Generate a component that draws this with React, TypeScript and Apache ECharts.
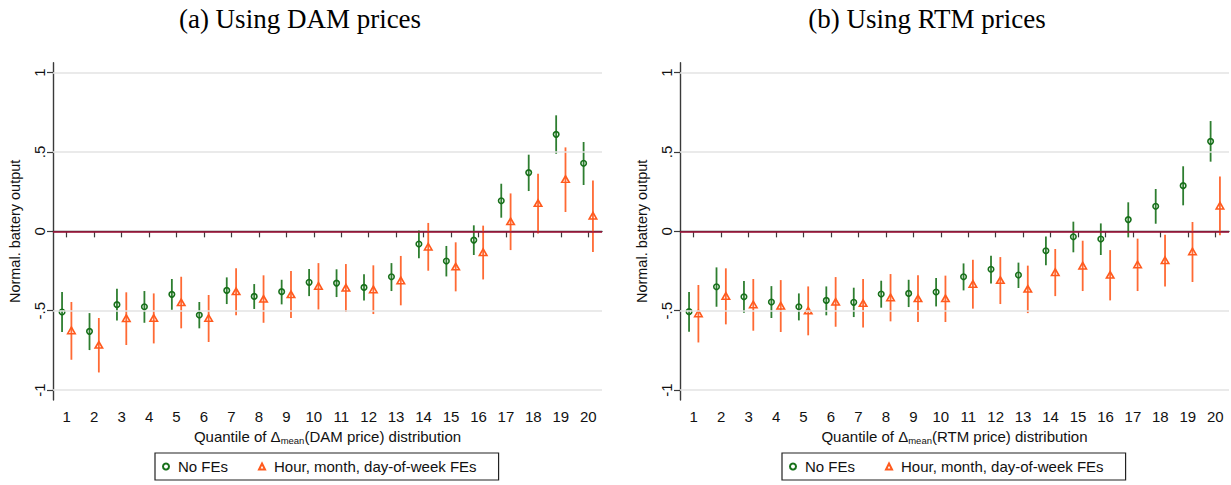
import React, { useEffect, useRef } from "react";
import * as echarts from "echarts";

// Quantiles of the price-difference distribution
const quantiles = [1, 2, 3, 4, 5, 6, 7, 8, 9, 10, 11, 12, 13, 14, 15, 16, 17, 18, 19, 20];
const yTicks = [-1, -0.5, 0, 0.5, 1];
const yTickLabels: Record<string, string> = { "-1": "-1", "-0.5": "-.5", "0": "0", "0.5": ".5", "1": "1" };

// (a) DAM prices — no fixed effects
const damNoFE = [-0.508, -0.63, -0.462, -0.475, -0.397, -0.527, -0.372, -0.41, -0.38, -0.321, -0.326, -0.353, -0.286, -0.08, -0.187, -0.055, 0.193, 0.37, 0.611, 0.429];
const damNoFELo = [-0.634, -0.748, -0.561, -0.576, -0.494, -0.611, -0.458, -0.489, -0.46, -0.408, -0.414, -0.435, -0.376, -0.17, -0.284, -0.149, 0.086, 0.254, 0.489, 0.292];
const damNoFEHi = [-0.382, -0.515, -0.362, -0.376, -0.3, -0.445, -0.29, -0.332, -0.305, -0.237, -0.239, -0.271, -0.2, 0.006, -0.092, 0.038, 0.3, 0.483, 0.731, 0.563];
// (a) DAM prices — hour, month, day-of-week fixed effects
const damFE = [-0.624, -0.715, -0.547, -0.546, -0.447, -0.546, -0.378, -0.425, -0.397, -0.344, -0.355, -0.366, -0.309, -0.097, -0.222, -0.131, 0.063, 0.178, 0.329, 0.099];
const damFELo = [-0.809, -0.889, -0.716, -0.706, -0.611, -0.697, -0.529, -0.576, -0.546, -0.492, -0.508, -0.521, -0.466, -0.248, -0.378, -0.303, -0.118, -0.013, 0.122, -0.13];
const damFEHi = [-0.445, -0.546, -0.384, -0.391, -0.286, -0.401, -0.233, -0.277, -0.25, -0.2, -0.206, -0.214, -0.155, 0.053, -0.069, 0.036, 0.239, 0.363, 0.529, 0.321];

// (b) RTM prices — no fixed effects
const rtmNoFE = [-0.506, -0.349, -0.412, -0.445, -0.475, -0.435, -0.447, -0.395, -0.391, -0.382, -0.286, -0.239, -0.275, -0.122, -0.034, -0.048, 0.074, 0.158, 0.288, 0.567];
const rtmNoFELo = [-0.632, -0.475, -0.513, -0.546, -0.561, -0.529, -0.54, -0.481, -0.477, -0.473, -0.372, -0.328, -0.357, -0.214, -0.132, -0.149, -0.038, 0.048, 0.164, 0.439];
const rtmNoFEHi = [-0.382, -0.227, -0.313, -0.345, -0.391, -0.347, -0.355, -0.311, -0.305, -0.294, -0.202, -0.153, -0.197, -0.032, 0.061, 0.05, 0.183, 0.267, 0.41, 0.695];
// (b) RTM prices — hour, month, day-of-week fixed effects
const rtmFE = [-0.517, -0.407, -0.461, -0.468, -0.499, -0.444, -0.452, -0.416, -0.422, -0.422, -0.331, -0.307, -0.362, -0.257, -0.216, -0.274, -0.209, -0.182, -0.127, 0.162];
const rtmFELo = [-0.7, -0.586, -0.626, -0.634, -0.655, -0.601, -0.605, -0.567, -0.571, -0.571, -0.487, -0.458, -0.515, -0.408, -0.376, -0.435, -0.376, -0.347, -0.319, -0.025];
const rtmFEHi = [-0.338, -0.233, -0.3, -0.307, -0.347, -0.288, -0.3, -0.269, -0.277, -0.279, -0.179, -0.162, -0.216, -0.111, -0.059, -0.118, -0.046, -0.021, 0.059, 0.345];

const NAME_A = "No FEs";
const NAME_B = "Hour, month, day-of-week FEs";
const GREEN = "#17701a";
const ORANGE = "#ff5a1e";
const AXIS = "#3a3a3a";
const SANS = "'Liberation Sans', Arial, sans-serif";
const SERIF = "'Liberation Serif', 'DejaVu Serif', serif";
const OFFSET = 0.17;

function errorBars(gridIndex: number, lo: number[], hi: number[], shift: number, color: string, name: string) {
  return {
    type: "custom",
    name: `${name} (95% CI)`,
    xAxisIndex: gridIndex,
    yAxisIndex: gridIndex,
    silent: true,
    z: 3,
    encode: { x: 0, y: [1, 2] },
    data: quantiles.map((q, i) => [q + shift, lo[i], hi[i]]),
    renderItem: (_p: any, api: any) => {
      const a = api.coord([api.value(0), api.value(1)]);
      const b = api.coord([api.value(0), api.value(2)]);
      return {
        type: "line",
        shape: { x1: a[0], y1: a[1], x2: b[0], y2: b[1] },
        style: { stroke: color, lineWidth: 1.8, opacity: 0.9 },
      };
    },
  };
}

function points(gridIndex: number, vals: number[], shift: number, color: string, name: string, symbol: string, size: any) {
  return {
    type: "scatter",
    name,
    xAxisIndex: gridIndex,
    yAxisIndex: gridIndex,
    z: 4,
    symbol,
    symbolSize: size,
    itemStyle: { color: "rgba(255,255,255,0)", borderColor: color, borderWidth: 1.6, opacity: 1 },
    data: quantiles.map((q, i) => [q + shift, vals[i]]),
  };
}

function refLines(gridIndex: number) {
  return {
    type: "line",
    name: "reference lines",
    xAxisIndex: gridIndex,
    yAxisIndex: gridIndex,
    data: [],
    silent: true,
    z: 1,
    markLine: {
      silent: true,
      symbol: "none",
      animation: false,
      label: { show: false },
      data: [
        ...yTicks.filter((v) => v !== 0).map((v) => ({ yAxis: v, lineStyle: { color: "#e3e3e3", width: 1.6, type: "solid" } })),
        { yAxis: 0, lineStyle: { color: "#a3123a", width: 1.6, type: "solid" } },
      ],
    },
  };
}

function xAxis(gridIndex: number, market: string) {
  return {
    type: "value",
    gridIndex,
    min: 0.5,
    max: 20.5,
    splitLine: { show: false },
    axisLine: { show: true, lineStyle: { color: AXIS, width: 1.4 } },
    axisTick: { show: true, length: 6, customValues: quantiles, lineStyle: { color: AXIS, width: 1.2 } },
    axisLabel: { customValues: quantiles, fontSize: 15, color: "#111", fontFamily: SANS, margin: 9 },
    name: `{a|Quantile of Δ}{s|mean}{a|(${market} price) distribution}`,
    nameLocation: "middle",
    nameGap: 26,
    nameTextStyle: {
      rich: {
        a: { fontSize: 15, fontFamily: SANS, color: "#111", lineHeight: 18, verticalAlign: "middle" },
        s: { fontSize: 9.5, fontFamily: SANS, color: "#111", lineHeight: 9, verticalAlign: "bottom" },
      },
    },
  };
}

function yAxis(gridIndex: number) {
  return {
    type: "value",
    gridIndex,
    min: -1.0625,
    max: 1.0625,
    splitLine: { show: false },
    axisLine: { show: true, lineStyle: { color: AXIS, width: 1.4 } },
    axisTick: { show: true, length: 6, customValues: yTicks, lineStyle: { color: AXIS, width: 1.2 } },
    axisLabel: {
      customValues: yTicks,
      rotate: 90,
      fontSize: 15,
      color: "#111",
      fontFamily: SANS,
      margin: 6,
      formatter: (v: number) => yTickLabels[String(v)] ?? String(v),
    },
    name: "Normal. battery output",
    nameLocation: "middle",
    nameRotate: 90,
    nameGap: 31,
    nameTextStyle: { fontSize: 14.5, fontFamily: SANS, color: "#111" },
  };
}

function legend(left: number) {
  return {
    left,
    top: 453,
    orient: "horizontal",
    data: [NAME_A, NAME_B],
    itemWidth: 6,
    itemHeight: 6,
    itemGap: 30,
    padding: [6, 22, 6, 7],
    borderColor: "#222",
    borderWidth: 1.2,
    borderRadius: 0,
    backgroundColor: "#fff",
    selectedMode: false,
    textStyle: { fontSize: 15, fontFamily: SANS, color: "#111", padding: [0, 0, 0, 4] },
  };
}

export default function App() {
  const ref = useRef<HTMLDivElement>(null);

  useEffect(() => {
    if (!ref.current) return;
    const chart = echarts.init(ref.current, undefined, { renderer: "svg" });
    chart.setOption({
      animation: false,
      backgroundColor: "#fff",
      grid: [
        { left: 53, top: 62.7, right: 629, bottom: 85 },
        { left: 680, top: 62.7, right: 2, bottom: 85 },
      ],
      xAxis: [xAxis(0, "DAM"), xAxis(1, "RTM")],
      yAxis: [yAxis(0), yAxis(1)],
      legend: [legend(155), legend(782)],
      graphic: [
        {
          type: "text",
          x: 300,
          y: 19,
          style: { text: "(a) Using DAM prices", font: `27px ${SERIF}`, fill: "#000", align: "center", verticalAlign: "middle" },
        },
        {
          type: "text",
          x: 927,
          y: 19,
          style: { text: "(b) Using RTM prices", font: `27px ${SERIF}`, fill: "#000", align: "center", verticalAlign: "middle" },
        },
      ],
      series: [
        refLines(0),
        errorBars(0, damNoFELo, damNoFEHi, -OFFSET, GREEN, NAME_A),
        errorBars(0, damFELo, damFEHi, OFFSET, ORANGE, NAME_B),
        points(0, damNoFE, -OFFSET, GREEN, NAME_A, "circle", 5.5),
        points(0, damFE, OFFSET, ORANGE, NAME_B, "triangle", [7.5, 6.5]),
        refLines(1),
        errorBars(1, rtmNoFELo, rtmNoFEHi, -OFFSET, GREEN, NAME_A),
        errorBars(1, rtmFELo, rtmFEHi, OFFSET, ORANGE, NAME_B),
        points(1, rtmNoFE, -OFFSET, GREEN, NAME_A, "circle", 5.5),
        points(1, rtmFE, OFFSET, ORANGE, NAME_B, "triangle", [7.5, 6.5]),
      ],
    });
    return () => chart.dispose();
  }, []);

  return (
    <div
      ref={ref}
      style={{ position: "absolute", left: 0, top: 0, width: 1231, height: 485, background: "#fff" }}
    />
  );
}
